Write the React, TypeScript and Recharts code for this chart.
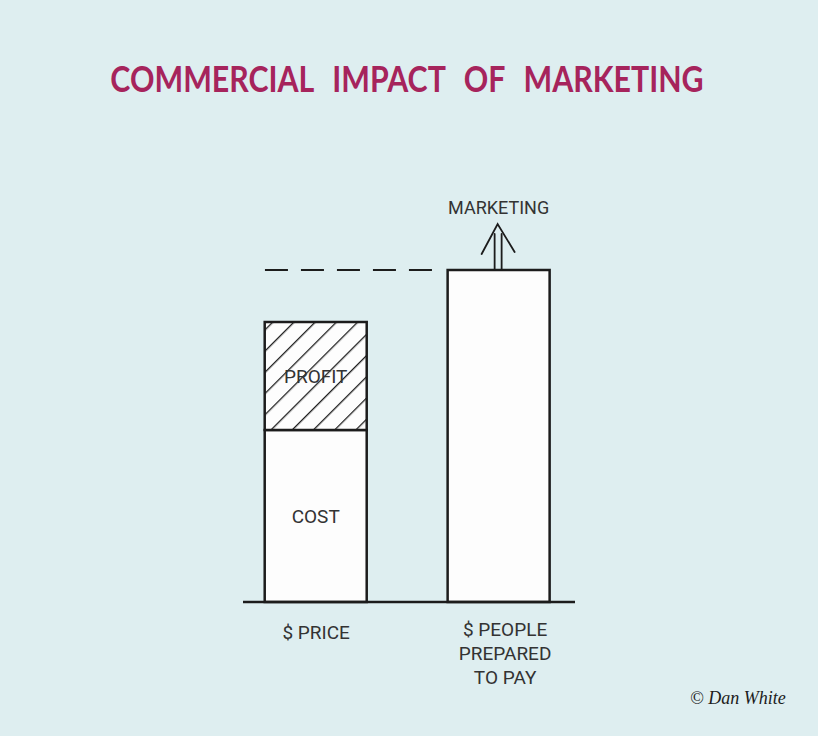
import { BarChart, Bar, XAxis, YAxis, ReferenceLine, LabelList } from 'recharts';

// bars: left = price split into cost + profit, right = what people will pay
const categories = ['$ PRICE', '$ PEOPLE PREPARED TO PAY'];
const categoryLines = [['$ PRICE'], ['$ PEOPLE', 'PREPARED', 'TO PAY']];
const costValues = [43, null];
const profitValues = [27, null];
const payValues = [null, 83];
const segmentNames = ['COST', 'PROFIT', 'MARKETING'];

const data = categories.map((name, i) => ({
  idx: i,
  name,
  cost: costValues[i],
  profit: profitValues[i],
  pay: payValues[i],
}));

const BG = '#deeef0';
const INK = '#1c1c1c';
const TITLE = '#a6245c';
const HAND = 'Roboto, "Open Sans", sans-serif';

const centerLabel = (text: string) => (props: any) => {
  const { x, y, width, height, value } = props;
  if (value == null || !height) return null;
  return (
    <text
      x={x + width / 2}
      y={y + height / 2}
      textAnchor="middle"
      dominantBaseline="central"
      fill="#333"
      fontFamily={HAND}
      fontSize={19}
    >
      {text}
    </text>
  );
};

const marketingArrow = (props: any) => {
  const { x, y, width, value } = props;
  if (value == null) return null;
  const cx = x + width / 2;
  return (
    <g stroke={INK} strokeWidth={1.8} fill="none" strokeLinecap="round">
      <line x1={cx - 4} y1={y} x2={cx - 4} y2={y - 36} />
      <line x1={cx + 3} y1={y} x2={cx + 3} y2={y - 36} />
      <polyline points={`${cx - 17},${y - 16} ${cx - 1},${y - 46} ${cx + 16},${y - 18}`} />
      <text
        x={cx}
        y={y - 56}
        textAnchor="middle"
        fill="#333"
        stroke="none"
        fontFamily={HAND}
        fontSize={18}
      >
        {segmentNames[2]}
      </text>
    </g>
  );
};

const CategoryTick = (props: any) => {
  const { x, y, payload } = props;
  const lines = categoryLines[payload.value] || [];
  return (
    <text x={x + 4} y={y} textAnchor="middle" fill="#333" fontFamily={HAND} fontSize={19}>
      {lines.map((line, i) => (
        <tspan key={i} x={x + (lines.length > 1 ? 6 : 0)} dy={i === 0 ? (lines.length > 1 ? 32 : 35) : 24}>
          {line}
        </tspan>
      ))}
    </text>
  );
};

export default function App() {
  return (
    <div style={{ position: 'absolute', left: 0, top: 0, width: 818, height: 736, background: BG }}>
      <svg width={818} height={736} style={{ position: 'absolute', left: 0, top: 0 }}>
        <text
          transform="translate(407,92) scale(0.82,1)"
          x={0}
          y={0}
          textAnchor="middle"
          fill={TITLE}
          fontFamily='Lato, "Open Sans", sans-serif'
          fontWeight={700}
          fontSize={37}
          wordSpacing={14}
        >
          COMMERCIAL IMPACT OF MARKETING
        </text>
        <text
          x={690}
          y={704}
          fill={INK}
          fontFamily='"Liberation Serif", serif'
          fontStyle="italic"
          fontSize={18}
        >
          © Dan White
        </text>
      </svg>
      <BarChart
        width={818}
        height={736}
        data={data}
        margin={{ top: 202, right: 243, bottom: 44, left: 243 }}
        style={{ position: 'absolute', left: 0, top: 0 }}
      >
        <defs>
          <pattern id="hatch" patternUnits="userSpaceOnUse" width={15} height={15} patternTransform="rotate(45)">
            <rect width={15} height={15} fill="#fdfdfd" />
            <line x1={0} y1={0} x2={0} y2={15} stroke={INK} strokeWidth={2.6} />
          </pattern>
        </defs>
        <XAxis
          dataKey="idx"
          type="number"
          domain={[-0.4, 1.415]}
          ticks={[0, 1]}
          allowDataOverflow
          height={90}
          axisLine={{ stroke: INK, strokeWidth: 2.5 }}
          tickLine={false}
          tickSize={0}
          tick={<CategoryTick />}
          interval={0}
        />
        <YAxis hide domain={[0, 100]} />
        <ReferenceLine
          segment={[
            { x: -0.28, y: payValues[1] as number },
            { x: 0.65, y: payValues[1] as number },
          ]}
          stroke={INK}
          strokeWidth={2}
          strokeDasharray="23 13"
        />
        <Bar dataKey="cost" stackId="a" barSize={102} fill="#fdfdfd" stroke={INK} strokeWidth={2.5} isAnimationActive={false}>
          <LabelList dataKey="cost" content={centerLabel(segmentNames[0])} />
        </Bar>
        <Bar dataKey="profit" stackId="a" barSize={102} fill="url(#hatch)" stroke={INK} strokeWidth={2.5} isAnimationActive={false}>
          <LabelList dataKey="profit" content={centerLabel(segmentNames[1])} />
        </Bar>
        <Bar dataKey="pay" stackId="a" barSize={102} fill="#fdfdfd" stroke={INK} strokeWidth={2.5} isAnimationActive={false}>
          <LabelList dataKey="pay" content={marketingArrow} />
        </Bar>
      </BarChart>
    </div>
  );
}
